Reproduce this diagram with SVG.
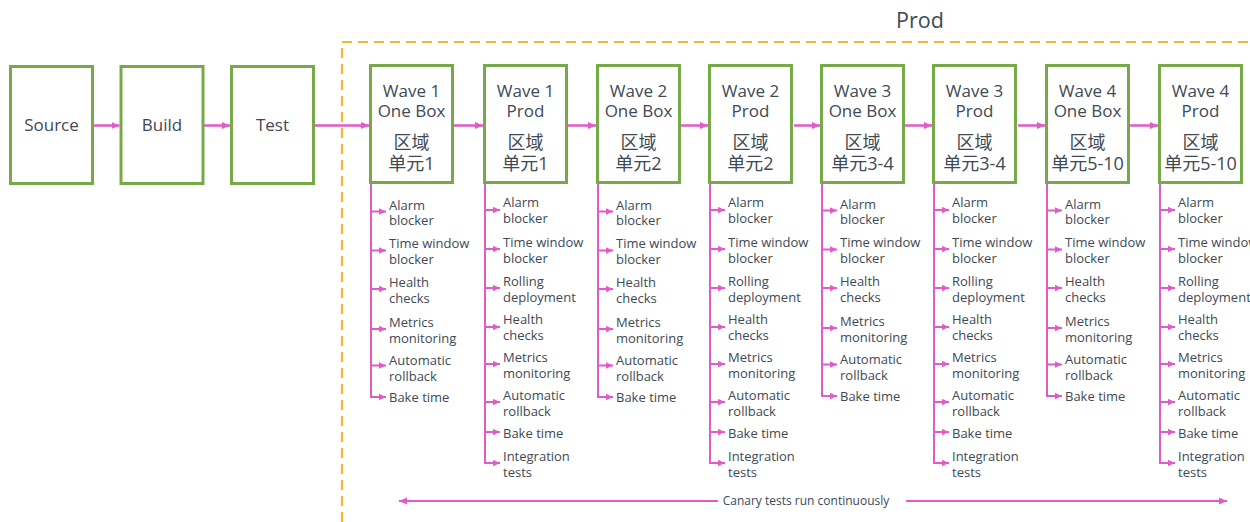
<svg xmlns="http://www.w3.org/2000/svg" width="1250" height="522" viewBox="0 0 1250 522">
<style>
text{font-family:"Open Sans","Noto Sans CJK SC",sans-serif;fill:#414955}
.box{fill:#fff;stroke:#78a948;stroke-width:3}
.t{font-size:17px;text-anchor:middle}
.c{font-size:18px;text-anchor:middle}
.i{font-size:13px}
.ln{fill:none;stroke:#e05ac9;stroke-width:2.5}
.br{fill:none;stroke:#e05ac9;stroke-width:2}
.ma{marker-end:url(#a)}
.sa{marker-end:url(#s)}
</style>
<defs>
<marker id="a" viewBox="0 0 8 8" refX="8" refY="4" markerWidth="8" markerHeight="8" markerUnits="userSpaceOnUse" orient="auto"><path d="M0,0.5 L8,4 L0,7.5z" fill="#e05ac9"/></marker>
<marker id="s" viewBox="0 0 7 7" refX="7" refY="3.5" markerWidth="7" markerHeight="7" markerUnits="userSpaceOnUse" orient="auto"><path d="M0,0.3 L7,3.5 L0,6.7z" fill="#e05ac9"/></marker>
</defs>
<rect width="1250" height="522" fill="#fff"/>

<g id="prod-group">
<rect x="342" y="42" width="1000" height="600" fill="none" stroke="#f2b630" stroke-width="2.2" stroke-dasharray="10 6"/>
<text x="920" y="28" style="font-size:21.5px;text-anchor:middle">Prod</text>
</g>

<g id="connectors">
<path class="ln ma" d="M94,125.5 H119.5"/>
<path class="ln ma" d="M204,125.5 H230"/>
<path class="ln ma" d="M315,125.5 H369"/>
<path class="ln ma" d="M454,125.5 H483"/>
<path class="ln ma" d="M568,125.5 H596"/>
<path class="ln ma" d="M681,125.5 H708"/>
<path class="ln ma" d="M794,125.5 H820"/>
<path class="ln ma" d="M905,125.5 H932"/>
<path class="ln ma" d="M1018,125.5 H1045"/>
<path class="ln ma" d="M1130,125.5 H1158"/>
<g id="br-w1ob" transform="translate(369,0)">
<path class="br" d="M2,184 V397"/>
<path class="br sa" d="M2,211.5 H17"/><path class="br sa" d="M2,250.5 H17"/><path class="br sa" d="M2,289 H17"/><path class="br sa" d="M2,329 H17"/><path class="br sa" d="M2,365.5 H17"/><path class="br sa" d="M1,397 H17"/>
</g>
<g id="br-w2ob" transform="translate(596,0)">
<path class="br" d="M2,184 V397"/>
<path class="br sa" d="M2,211.5 H17"/><path class="br sa" d="M2,250.5 H17"/><path class="br sa" d="M2,289 H17"/><path class="br sa" d="M2,329 H17"/><path class="br sa" d="M2,365.5 H17"/><path class="br sa" d="M1,397 H17"/>
</g>
<g id="br-w3ob" transform="translate(820,0)">
<path class="br" d="M2,184 V396"/>
<path class="br sa" d="M2,210.5 H17"/><path class="br sa" d="M2,249.5 H17"/><path class="br sa" d="M2,288 H17"/><path class="br sa" d="M2,328 H17"/><path class="br sa" d="M2,364.5 H17"/><path class="br sa" d="M1,396 H17"/>
</g>
<g id="br-w4ob" transform="translate(1045,0)">
<path class="br" d="M2,184 V396"/>
<path class="br sa" d="M2,210.5 H17"/><path class="br sa" d="M2,249.5 H17"/><path class="br sa" d="M2,288 H17"/><path class="br sa" d="M2,328 H17"/><path class="br sa" d="M2,364.5 H17"/><path class="br sa" d="M1,396 H17"/>
</g>
<g id="br-w1p" transform="translate(483,0)">
<path class="br" d="M2,184 V463"/>
<path class="br sa" d="M2,210 H17"/><path class="br sa" d="M2,249 H17"/><path class="br sa" d="M2,288 H17"/><path class="br sa" d="M2,327 H17"/><path class="br sa" d="M2,364 H17"/><path class="br sa" d="M2,402 H17"/><path class="br sa" d="M2,432 H17"/><path class="br sa" d="M1,463 H17"/>
</g>
<g id="br-w2p" transform="translate(708,0)">
<path class="br" d="M2,184 V463"/>
<path class="br sa" d="M2,210 H17"/><path class="br sa" d="M2,249 H17"/><path class="br sa" d="M2,288 H17"/><path class="br sa" d="M2,327 H17"/><path class="br sa" d="M2,364 H17"/><path class="br sa" d="M2,402 H17"/><path class="br sa" d="M2,432 H17"/><path class="br sa" d="M1,463 H17"/>
</g>
<g id="br-w3p" transform="translate(932,0)">
<path class="br" d="M2,184 V463"/>
<path class="br sa" d="M2,210 H17"/><path class="br sa" d="M2,249 H17"/><path class="br sa" d="M2,288 H17"/><path class="br sa" d="M2,327 H17"/><path class="br sa" d="M2,364 H17"/><path class="br sa" d="M2,402 H17"/><path class="br sa" d="M2,432 H17"/><path class="br sa" d="M1,463 H17"/>
</g>
<g id="br-w4p" transform="translate(1158,0)">
<path class="br" d="M2,184 V463"/>
<path class="br sa" d="M2,210 H17"/><path class="br sa" d="M2,249 H17"/><path class="br sa" d="M2,288 H17"/><path class="br sa" d="M2,327 H17"/><path class="br sa" d="M2,364 H17"/><path class="br sa" d="M2,402 H17"/><path class="br sa" d="M2,432 H17"/><path class="br sa" d="M1,463 H17"/>
</g>
<path class="br ma" d="M718,501 H399"/>
<path class="br ma" d="M906,501 H1227"/>
<text x="806" y="505" style="font-size:12px;text-anchor:middle">Canary tests run continuously</text>
</g>

<g id="n-source"><rect class="box" x="10.5" y="66.5" width="82" height="117"/><text class="t" x="51.5" y="131">Source</text></g>
<g id="n-build"><rect class="box" x="121" y="66.5" width="82" height="117"/><text class="t" x="162" y="131">Build</text></g>
<g id="n-test"><rect class="box" x="231.5" y="66.5" width="82" height="117"/><text class="t" x="272.5" y="131">Test</text></g>

<g id="n-w1ob" transform="translate(369,0)">
<rect class="box" x="1.5" y="65.5" width="82" height="117"/>
<text class="t" x="42.5" y="96.5">Wave 1</text><text class="t" x="42.5" y="117">One Box</text>
<text class="c" x="42.5" y="148.5">区域</text><text class="c" x="42.5" y="170">单元1</text>
<text class="i" x="20" y="209.5">Alarm</text><text class="i" x="20" y="225">blocker</text>
<text class="i" x="20" y="248">Time window</text><text class="i" x="20" y="264">blocker</text>
<text class="i" x="20" y="287">Health</text><text class="i" x="20" y="303">checks</text>
<text class="i" x="20" y="327">Metrics</text><text class="i" x="20" y="342.5">monitoring</text>
<text class="i" x="20" y="364.5">Automatic</text><text class="i" x="20" y="380.5">rollback</text>
<text class="i" x="20" y="402">Bake time</text>
</g>

<g id="n-w1p" transform="translate(483,0)">
<rect class="box" x="1.5" y="65.5" width="82" height="117"/>
<text class="t" x="42.5" y="96.5">Wave 1</text><text class="t" x="42.5" y="117">Prod</text>
<text class="c" x="42.5" y="148.5">区域</text><text class="c" x="42.5" y="170">单元1</text>
<text class="i" x="20" y="207">Alarm</text><text class="i" x="20" y="222.5">blocker</text>
<text class="i" x="20" y="246.5">Time window</text><text class="i" x="20" y="262.5">blocker</text>
<text class="i" x="20" y="286">Rolling</text><text class="i" x="20" y="302">deployment</text>
<text class="i" x="20" y="323.5">Health</text><text class="i" x="20" y="339.5">checks</text>
<text class="i" x="20" y="362">Metrics</text><text class="i" x="20" y="377.5">monitoring</text>
<text class="i" x="20" y="400">Automatic</text><text class="i" x="20" y="416">rollback</text>
<text class="i" x="20" y="437.5">Bake time</text>
<text class="i" x="20" y="461">Integration</text><text class="i" x="20" y="476.5">tests</text>
</g>

<g id="n-w2ob" transform="translate(596,0)">
<rect class="box" x="1.5" y="65.5" width="82" height="117"/>
<text class="t" x="42.5" y="96.5">Wave 2</text><text class="t" x="42.5" y="117">One Box</text>
<text class="c" x="42.5" y="148.5">区域</text><text class="c" x="42.5" y="170">单元2</text>
<text class="i" x="20" y="209.5">Alarm</text><text class="i" x="20" y="225">blocker</text>
<text class="i" x="20" y="248">Time window</text><text class="i" x="20" y="264">blocker</text>
<text class="i" x="20" y="287">Health</text><text class="i" x="20" y="303">checks</text>
<text class="i" x="20" y="327">Metrics</text><text class="i" x="20" y="342.5">monitoring</text>
<text class="i" x="20" y="364.5">Automatic</text><text class="i" x="20" y="380.5">rollback</text>
<text class="i" x="20" y="402">Bake time</text>
</g>

<g id="n-w2p" transform="translate(708,0)">
<rect class="box" x="1.5" y="65.5" width="82" height="117"/>
<text class="t" x="42.5" y="96.5">Wave 2</text><text class="t" x="42.5" y="117">Prod</text>
<text class="c" x="42.5" y="148.5">区域</text><text class="c" x="42.5" y="170">单元2</text>
<text class="i" x="20" y="207">Alarm</text><text class="i" x="20" y="222.5">blocker</text>
<text class="i" x="20" y="246.5">Time window</text><text class="i" x="20" y="262.5">blocker</text>
<text class="i" x="20" y="286">Rolling</text><text class="i" x="20" y="302">deployment</text>
<text class="i" x="20" y="323.5">Health</text><text class="i" x="20" y="339.5">checks</text>
<text class="i" x="20" y="362">Metrics</text><text class="i" x="20" y="377.5">monitoring</text>
<text class="i" x="20" y="400">Automatic</text><text class="i" x="20" y="416">rollback</text>
<text class="i" x="20" y="437.5">Bake time</text>
<text class="i" x="20" y="461">Integration</text><text class="i" x="20" y="476.5">tests</text>
</g>

<g id="n-w3ob" transform="translate(820,0)">
<rect class="box" x="1.5" y="65.5" width="82" height="117"/>
<text class="t" x="42.5" y="96.5">Wave 3</text><text class="t" x="42.5" y="117">One Box</text>
<text class="c" x="42.5" y="148.5">区域</text><text class="c" x="42.5" y="170">单元3-4</text>
<text class="i" x="20" y="208.5">Alarm</text><text class="i" x="20" y="224">blocker</text>
<text class="i" x="20" y="247">Time window</text><text class="i" x="20" y="263">blocker</text>
<text class="i" x="20" y="286">Health</text><text class="i" x="20" y="302">checks</text>
<text class="i" x="20" y="326">Metrics</text><text class="i" x="20" y="341.5">monitoring</text>
<text class="i" x="20" y="363.5">Automatic</text><text class="i" x="20" y="379.5">rollback</text>
<text class="i" x="20" y="401">Bake time</text>
</g>

<g id="n-w3p" transform="translate(932,0)">
<rect class="box" x="1.5" y="65.5" width="82" height="117"/>
<text class="t" x="42.5" y="96.5">Wave 3</text><text class="t" x="42.5" y="117">Prod</text>
<text class="c" x="42.5" y="148.5">区域</text><text class="c" x="42.5" y="170">单元3-4</text>
<text class="i" x="20" y="207">Alarm</text><text class="i" x="20" y="222.5">blocker</text>
<text class="i" x="20" y="246.5">Time window</text><text class="i" x="20" y="262.5">blocker</text>
<text class="i" x="20" y="286">Rolling</text><text class="i" x="20" y="302">deployment</text>
<text class="i" x="20" y="323.5">Health</text><text class="i" x="20" y="339.5">checks</text>
<text class="i" x="20" y="362">Metrics</text><text class="i" x="20" y="377.5">monitoring</text>
<text class="i" x="20" y="400">Automatic</text><text class="i" x="20" y="416">rollback</text>
<text class="i" x="20" y="437.5">Bake time</text>
<text class="i" x="20" y="461">Integration</text><text class="i" x="20" y="476.5">tests</text>
</g>

<g id="n-w4ob" transform="translate(1045,0)">
<rect class="box" x="1.5" y="65.5" width="82" height="117"/>
<text class="t" x="42.5" y="96.5">Wave 4</text><text class="t" x="42.5" y="117">One Box</text>
<text class="c" x="42.5" y="148.5">区域</text><text class="c" x="42.5" y="170">单元5-10</text>
<text class="i" x="20" y="208.5">Alarm</text><text class="i" x="20" y="224">blocker</text>
<text class="i" x="20" y="247">Time window</text><text class="i" x="20" y="263">blocker</text>
<text class="i" x="20" y="286">Health</text><text class="i" x="20" y="302">checks</text>
<text class="i" x="20" y="326">Metrics</text><text class="i" x="20" y="341.5">monitoring</text>
<text class="i" x="20" y="363.5">Automatic</text><text class="i" x="20" y="379.5">rollback</text>
<text class="i" x="20" y="401">Bake time</text>
</g>

<g id="n-w4p" transform="translate(1158,0)">
<rect class="box" x="1.5" y="65.5" width="82" height="117"/>
<text class="t" x="42.5" y="96.5">Wave 4</text><text class="t" x="42.5" y="117">Prod</text>
<text class="c" x="42.5" y="148.5">区域</text><text class="c" x="42.5" y="170">单元5-10</text>
<text class="i" x="20" y="207">Alarm</text><text class="i" x="20" y="222.5">blocker</text>
<text class="i" x="20" y="246.5">Time window</text><text class="i" x="20" y="262.5">blocker</text>
<text class="i" x="20" y="286">Rolling</text><text class="i" x="20" y="302">deployment</text>
<text class="i" x="20" y="323.5">Health</text><text class="i" x="20" y="339.5">checks</text>
<text class="i" x="20" y="362">Metrics</text><text class="i" x="20" y="377.5">monitoring</text>
<text class="i" x="20" y="400">Automatic</text><text class="i" x="20" y="416">rollback</text>
<text class="i" x="20" y="437.5">Bake time</text>
<text class="i" x="20" y="461">Integration</text><text class="i" x="20" y="476.5">tests</text>
</g>
</svg>
